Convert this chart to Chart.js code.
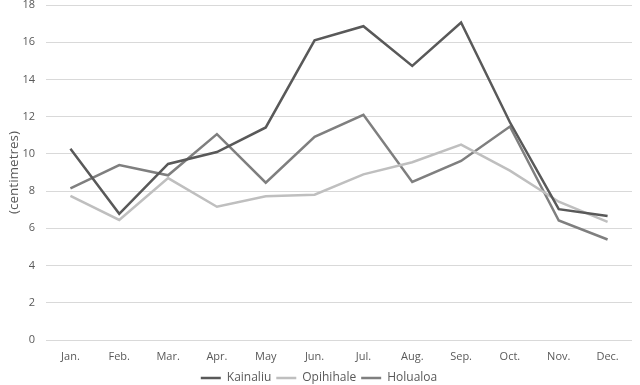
<!DOCTYPE html>
<html>
<head>
<meta charset="utf-8">
<script src="https://cdn.jsdelivr.net/npm/chart.js@4/dist/chart.umd.min.js"></script>
<style>
html,body{margin:0;padding:0;background:#fff;}
#wrap{width:640px;height:385px;position:relative;}
</style>
</head>
<body>
<div id="wrap"><canvas id="c" width="640" height="385"></canvas></div>
<script>
const months = ["Jan.","Feb.","Mar.","Apr.","May","Jun.","Jul.","Aug.","Sep.","Oct.","Nov.","Dec."];
const kainaliu  = [10.27, 6.78, 9.46, 10.1, 11.42, 16.1, 16.86, 14.73, 17.06, 11.7, 7.03, 6.66];
const opihihale = [7.75, 6.45, 8.7, 7.16, 7.72, 7.81, 8.9, 9.55, 10.5, 9.1, 7.43, 6.35];
const holualoa  = [8.15, 9.4, 8.85, 11.06, 8.45, 10.92, 12.1, 8.49, 9.62, 11.47, 6.42, 5.4];
const yTitle = "(centimetres)";

const FONT = "'Open Sans', sans-serif";
const TXT = "#595959";

new Chart(document.getElementById('c'), {
  type: 'line',
  data: {
    labels: months,
    datasets: [
      {label: "Kainaliu", data: kainaliu, borderColor: "#595959", backgroundColor: "#595959"},
      {label: "Opihihale", data: opihihale, borderColor: "#bfbfbf", backgroundColor: "#bfbfbf"},
      {label: "Holualoa", data: holualoa, borderColor: "#7f7f7f", backgroundColor: "#7f7f7f"}
    ].map(d => Object.assign(d, {borderWidth: 2.5, pointRadius: 0, tension: 0, fill: false}))
  },
  options: {
    responsive: false,
    animation: false,
    layout: {padding: {top: 5, right: 8, left: 6, bottom: -9}},
    plugins: {
      tooltip: {enabled: false},
      legend: {
        position: 'bottom',
        labels: {
          usePointStyle: true,
          pointStyle: 'line',
          pointStyleWidth: 20,
          padding: 5,
          color: TXT,
          font: {family: FONT, size: 12}
        }
      }
    },
    scales: {
      x: {
        offset: true,
        grid: {display: false, drawTicks: false},
        border: {display: false},
        ticks: {color: TXT, padding: 10, font: {family: FONT, size: 11}, maxRotation: 0},
        afterFit: s => { s.height = 27; }
      },
      y: {
        min: 0, max: 18,
        ticks: {stepSize: 2, color: TXT, padding: 11, font: {family: FONT, size: 11}},
        grid: {color: "#d9d9d9", lineWidth: 1, drawTicks: false},
        border: {display: false},
        title: {display: true, text: yTitle, color: TXT, font: {family: FONT, size: 13.5}, padding: 0},
        afterFit: s => { s.width = 40; s.paddingTop = 0; s.paddingBottom = 0; }
      }
    }
  }
});
</script>
</body>
</html>
